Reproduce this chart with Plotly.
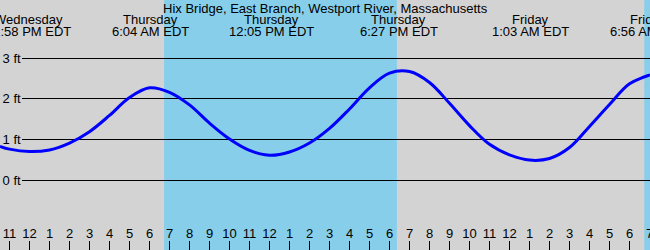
import plotly.graph_objects as go

# ---- data (hours since Thursday 00:00 local) ----
tide_hours = [-1.475, -1, 0, 1, 2, 3, 4, 5, 6, 7, 8, 9, 10, 11, 12, 13, 14, 15, 16, 17,
              18, 19, 20, 21, 22, 23, 24, 25, 26, 27, 28, 29, 30, 31, 31.025]
tide_ft = [0.83, 0.76, 0.70, 0.74, 0.91, 1.19, 1.59, 2.03, 2.27, 2.16, 1.85, 1.40, 1.01, 0.73, 0.61,
           0.69, 0.91, 1.27, 1.75, 2.27, 2.63, 2.67, 2.40, 1.89, 1.34, 0.88, 0.62, 0.49, 0.53,
           0.80, 1.32, 1.86, 2.37, 2.58, 2.58]

sunrise_hours = [6.73, 30.74]
sunset_hours = [18.37, 42.37]

event_hours = [-0.033, 6.067, 12.083, 18.45, 25.05, 30.933]
event_days = ["Wednesday", "Thursday", "Thursday", "Thursday", "Friday", "Friday"]
event_times = ["11:58 PM EDT", "6:04 AM EDT", "12:05 PM EDT", "6:27 PM EDT", "1:03 AM EDT", "6:56 AM EDT"]

hour_ticks = list(range(-1, 32))
hour_labels = ["11", "12", "1", "2", "3", "4", "5", "6", "7", "8", "9", "10", "11",
               "12", "1", "2", "3", "4", "5", "6", "7", "8", "9", "10", "11",
               "12", "1", "2", "3", "4", "5", "6", "7"]
midnight_ticks = [0, 24]

level_ticks = [0, 1, 2, 3]
level_labels = ["0 ft", "1 ft", "2 ft", "3 ft"]

title = "Hix Bridge, East Branch, Westport River, Massachusetts"

X_RANGE = [-1.475, 31.025]
Y_RANGE = [-1.724, 4.433]
GRID_X0 = -0.39
GRAY = "#d3d3d3"
SKY = "#87ceeb"
FONT = "Liberation Sans, Arial, sans-serif"

fig = go.Figure()
fig.add_trace(go.Scatter(x=tide_hours, y=tide_ft, xaxis="x2", yaxis="y2", mode="lines",
                         line=dict(color="#0000ff", width=3, shape="spline", smoothing=1),
                         hoverinfo="skip", showlegend=False))

shapes = []
for sr, ss in zip(sunrise_hours, sunset_hours):
    shapes.append(dict(type="rect", xref="x", yref="paper", x0=sr, x1=ss, y0=0, y1=1,
                       fillcolor=SKY, line=dict(width=0), layer="below"))

annotations = [dict(text=title, xref="paper", yref="paper", x=0.5, y=1 - 8.5 / 250,
                    showarrow=False, xanchor="center", yanchor="middle",
                    font=dict(family=FONT, size=13, color="black"))]
for h, d, t in zip(event_hours, event_days, event_times):
    annotations.append(dict(text=d, xref="x2", yref="paper", x=h, y=1 - 19.5 / 250,
                            showarrow=False, xanchor="center", yanchor="middle",
                            font=dict(family=FONT, size=13, color="black")))
    annotations.append(dict(text=t, xref="x2", yref="paper", x=h, y=1 - 31.5 / 250,
                            showarrow=False, xanchor="center", yanchor="middle",
                            font=dict(family=FONT, size=13, color="black")))

fig.update_layout(
    width=650, height=250, margin=dict(l=0, r=0, t=0, b=0),
    paper_bgcolor=GRAY, plot_bgcolor="rgba(0,0,0,0)",
    font=dict(family=FONT, size=13, color="black"),
    showlegend=False, shapes=shapes, annotations=annotations,
    xaxis=dict(domain=[21.7 / 650, 1], range=[GRID_X0, X_RANGE[1]], anchor="y",
               showgrid=False, zeroline=False, showticklabels=False, ticks="",
               showline=False, fixedrange=True),
    yaxis=dict(domain=[0, 1], range=Y_RANGE, anchor="x",
               tickvals=level_ticks, ticktext=level_labels, ticks="",
               showgrid=True, gridcolor="black", gridwidth=1,
               zeroline=True, zerolinecolor="black", zerolinewidth=1,
               showline=False, automargin=False, fixedrange=True,
               tickfont=dict(family=FONT, size=13, color="black")),
    xaxis2=dict(domain=[0, 1], range=X_RANGE, anchor="y2",
                tickvals=hour_ticks, ticktext=hour_labels, ticks="inside",
                ticklen=9, tickwidth=1, tickcolor="black",
                ticklabelposition="inside", ticklabeloverflow="allow",
                showgrid=False, zeroline=False, showline=False, automargin=False,
                fixedrange=True, tickfont=dict(family=FONT, size=13, color="black")),
    xaxis3=dict(domain=[0, 1], range=X_RANGE, anchor="y2", overlaying="x2",
                tickvals=midnight_ticks, ticks="inside", ticklen=9, tickwidth=3,
                tickcolor="black", showticklabels=False, showgrid=False,
                zeroline=False, showline=False, automargin=False, fixedrange=True),
    yaxis2=dict(domain=[0, 1], range=Y_RANGE, anchor="x2",
                showgrid=False, zeroline=False, showticklabels=False, ticks="",
                showline=False, automargin=False, fixedrange=True),
)

fig.write_html("out.html")
